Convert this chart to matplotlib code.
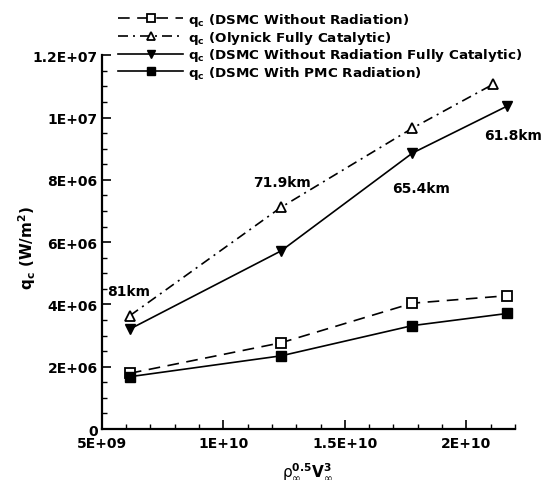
import matplotlib
matplotlib.use("Agg")
import matplotlib.pyplot as plt
from matplotlib.ticker import MultipleLocator, FuncFormatter

plt.rcParams['font.family'] = ['DejaVu Sans']
plt.rcParams['mathtext.fontset'] = 'dejavusans'

# Data
x_dsmc = [6.16e9, 1.238e10, 1.778e10, 2.168e10]
x_olynick = [6.16e9, 1.238e10, 1.778e10, 2.110e10]
q_dsmc_norad = [1.79e6, 2.77e6, 4.04e6, 4.28e6]
q_olynick_fc = [3.64e6, 7.12e6, 9.66e6, 11.07e6]
q_dsmc_norad_fc = [3.21e6, 5.72e6, 8.86e6, 10.37e6]
q_dsmc_pmc = [1.68e6, 2.35e6, 3.32e6, 3.71e6]

alt_labels = ["81km", "71.9km", "65.4km", "61.8km"]
alt_label_x = [6.1e9, 1.241e10, 1.814e10, 2.191e10]
alt_label_y = [4.43e6, 7.94e6, 7.73e6, 9.44e6]

legend_labels = [
    r"$\mathbf{q_c}$ (DSMC Without Radiation)",
    r"$\mathbf{q_c}$ (Olynick Fully Catalytic)",
    r"$\mathbf{q_c}$ (DSMC Without Radiation Fully Catalytic)",
    r"$\mathbf{q_c}$ (DSMC With PMC Radiation)",
]

def sci(v, pos):
    if v == 0:
        return "0"
    s = "%.1E" % v
    mant, exp = s.split("E")
    if mant.endswith(".0"):
        mant = mant[:-2]
    return mant + "E" + exp

fig = plt.figure(figsize=(5.45, 4.81), dpi=100)
ax = fig.add_axes([0.1866, 0.106, 0.945 - 0.1866, 0.883 - 0.106])

lw = 1.2
ms = 7
h1, = ax.plot(x_dsmc, q_dsmc_norad, color='black', lw=lw, dashes=(7, 4.5),
              marker='s', ms=ms, mfc='white', mec='black', mew=1.3)
h2, = ax.plot(x_olynick, q_olynick_fc, color='black', lw=lw, dashes=(6, 3, 1.2, 3),
              marker='^', ms=ms + 0.5, mfc='white', mec='black', mew=1.3)
h3, = ax.plot(x_dsmc, q_dsmc_norad_fc, color='black', lw=lw, linestyle='-',
              marker='v', ms=ms + 0.5, mfc='black', mec='black')
h4, = ax.plot(x_dsmc, q_dsmc_pmc, color='black', lw=lw, linestyle='-',
              marker='s', ms=ms, mfc='black', mec='black')

for t, xx, yy in zip(alt_labels, alt_label_x, alt_label_y):
    ax.text(xx, yy, t, ha='center', va='center', fontsize=10, fontweight='bold')

ax.set_xlim(5e9, 2.2e10)
ax.set_ylim(0, 1.2e7)
ax.xaxis.set_major_locator(MultipleLocator(5e9))
ax.xaxis.set_minor_locator(MultipleLocator(1e9))
ax.yaxis.set_major_locator(MultipleLocator(2e6))
ax.yaxis.set_minor_locator(MultipleLocator(5e5))
ax.xaxis.set_major_formatter(FuncFormatter(sci))
ax.yaxis.set_major_formatter(FuncFormatter(sci))

for s in ['top', 'right']:
    ax.spines[s].set_visible(False)
for s in ['left', 'bottom']:
    ax.spines[s].set_linewidth(1.6)

ax.tick_params(which='major', direction='in', length=6.5, width=1.2, labelsize=10)
ax.tick_params(axis='x', which='major', pad=5)
ax.tick_params(axis='y', which='major', pad=3)
ax.tick_params(which='minor', direction='in', length=3.6, width=1.0)
for lab in ax.get_xticklabels() + ax.get_yticklabels():
    lab.set_fontweight('bold')

ax.set_ylabel(r"$\mathbf{q_c}$ $\mathbf{(W/m^2)}$", fontsize=11, fontweight='bold')
ax.yaxis.set_label_coords(-0.153, 0.487)
ax.set_xlabel(r"$\mathrm{\rho}_{\infty}^{\mathbf{0.5}}\mathbf{V}_{\infty}^{\mathbf{3}}$", fontsize=11)
ax.xaxis.set_label_coords(0.497, -0.083)

leg = ax.legend([h1, h2, h3, h4], legend_labels, loc='upper left',
                bbox_to_anchor=(118 / 545, 1 - 12 / 481), bbox_transform=fig.transFigure,
                frameon=False, handlelength=4.85, handletextpad=0.38, labelspacing=0.05,
                borderpad=0, borderaxespad=0, markerscale=0.85,
                prop={'weight': 'bold', 'size': 9.7})

fig.savefig("out.png", dpi=100)
